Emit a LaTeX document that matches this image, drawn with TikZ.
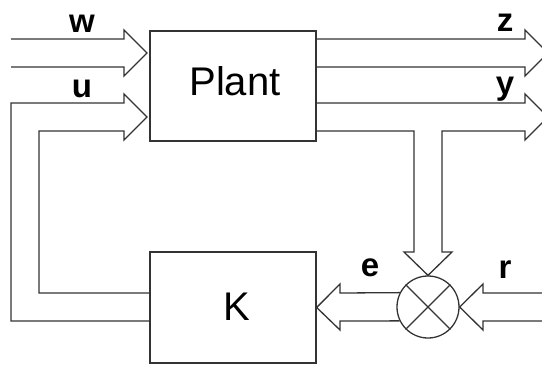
\documentclass[tikz,border=0pt]{standalone}
\usepackage{fontspec}
\setmainfont{Liberation Sans}
\begin{document}
\begin{tikzpicture}[x=1pt,y=-1pt,
  blk/.style={draw=black!80,line width=1.3pt,line join=miter},
  box/.style={draw=black!80,line width=1.3pt,minimum width=166pt,minimum height=110pt,inner sep=0pt},
  lbl/.style={font=\fontsize{33}{33}\selectfont\bfseries,anchor=base,inner sep=0pt},
  big/.style={font=\fontsize{40}{40}\selectfont}]
\useasboundingbox (0,0) rectangle (542,365);
\node[box] (Plant) at (233,86) {};
\node[box,minimum height=111pt] (K) at (233,307.5) {};
\node[draw=black!80,line width=1.3pt,circle,minimum size=62pt,inner sep=0pt] (sum) at (428,307) {};
\node[big,anchor=base,inner sep=0pt] (ptext) at (235,95) {Plant};
\node[big,anchor=base,inner sep=0pt] (ktext) at (237,320) {K};
% cross in summing junction
\draw[blk] (sum.north west) -- (sum.south east);
\draw[blk] (sum.north east) -- (sum.south west);
% w input
\coordinate (wtip) at (147,53);
\draw[blk] (11,39) -- (124,39) -- (124,30) -- (wtip) -- (124,76) -- (124,67) -- (11,67);
% u feedback
\coordinate (utip) at (147,117);
\draw[blk] (K.west |- 0,321) -- (11,321) -- (11,103) -- (124,103) -- (124,94) -- (utip) -- (124,140) -- (124,131) -- (39,131) -- (39,293) -- (K.west |- 0,293);
% z output
\coordinate (ztip) at (548,53);
\draw[blk] (Plant.east |- 0,39) -- (525,39) -- (525,30) -- (ztip) -- (525,76) -- (525,67) -- (Plant.east |- 0,67);
% y output with branch down to summing junction
\coordinate (ytip) at (548,117);
\draw[blk] (Plant.east |- 0,103) -- (525,103) -- (525,94) -- (ytip) -- (525,140) -- (525,131) -- (442,131) -- (442,252) -- (452,252) -- (sum.north) -- (404,252) -- (414,252) -- (414,131) -- (Plant.east |- 0,131);
% e to K
\draw[blk] (sum.153.15) -- (340,293) -- (340,284) -- (K.east) -- (340,330) -- (340,321) -- (sum.206.85);
% r into junction
\draw[blk] (548,293) -- (483,293) -- (483,284) -- (sum.east) -- (483,330) -- (483,321) -- (548,321);
% labels
\node[lbl] (lw) at (82,32) {w};
\node[lbl] (lu) at (82,97) {u};
\node[lbl] (lz) at (505,31) {z};
\node[lbl] (ly) at (505,94) {y};
\node[lbl] (le) at (370,276) {e};
\node[lbl] (lr) at (505,278) {r};
\end{tikzpicture}
\end{document}
